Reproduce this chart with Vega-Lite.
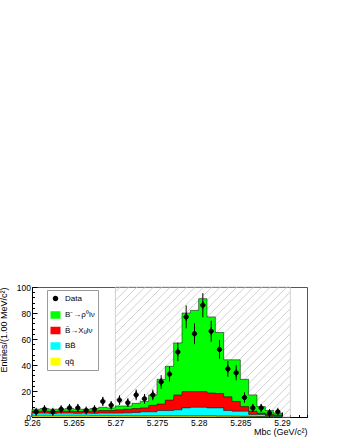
{
 "$schema": "https://vega.github.io/schema/vega-lite/v6.json",
 "width": 275, "height": 130,
 "autosize": "none",
 "padding": {"left": 32, "top": 287, "right": 34, "bottom": 24},
 "background": "white",
 "config": {
  "font": "Liberation Sans",
  "view": {"stroke": "#555", "strokeWidth": 1},
  "axis": {"labelFontSize": 8.5, "labelColor": "black", "titleFontSize": 9, "titleFontWeight": "normal", "titleColor": "black", "tickColor": "black", "domainColor": "black", "grid": false, "tickSize": -5, "labelOverlap": false},
  "legend": {"orient": "none", "legendX": 15, "legendY": 3, "title": null, "fillColor": "white", "strokeColor": "#999", "padding": 3, "symbolSize": 100, "symbolStrokeColor": "black", "symbolStrokeWidth": 0.7, "symbolOpacity": 1, "labelFontSize": 8, "labelColor": "black", "rowPadding": 4.5, "labelOffset": 4}
 },
 "resolve": {"axis": {"x": "independent", "y": "independent"}},
 "datasets": {
  "hatch": [
   {"hx1":5.27,"hy1":96.2,"hx2":5.2706,"hy2":100},
   {"hx1":5.27,"hy1":89.7,"hx2":5.2716,"hy2":100},
   {"hx1":5.27,"hy1":83.3,"hx2":5.2726,"hy2":100},
   {"hx1":5.27,"hy1":76.9,"hx2":5.2736,"hy2":100},
   {"hx1":5.27,"hy1":70.5,"hx2":5.2746,"hy2":100},
   {"hx1":5.27,"hy1":64.1,"hx2":5.2756,"hy2":100},
   {"hx1":5.27,"hy1":57.7,"hx2":5.2766,"hy2":100},
   {"hx1":5.27,"hy1":51.3,"hx2":5.2776,"hy2":100},
   {"hx1":5.27,"hy1":44.9,"hx2":5.2786,"hy2":100},
   {"hx1":5.27,"hy1":38.5,"hx2":5.2796,"hy2":100},
   {"hx1":5.27,"hy1":32.1,"hx2":5.2806,"hy2":100},
   {"hx1":5.27,"hy1":25.6,"hx2":5.2816,"hy2":100},
   {"hx1":5.27,"hy1":19.2,"hx2":5.2826,"hy2":100},
   {"hx1":5.27,"hy1":12.8,"hx2":5.2836,"hy2":100},
   {"hx1":5.27,"hy1":6.4,"hx2":5.2846,"hy2":100},
   {"hx1":5.270,"hy1":0,"hx2":5.2856,"hy2":100},
   {"hx1":5.271,"hy1":0,"hx2":5.2866,"hy2":100},
   {"hx1":5.272,"hy1":0,"hx2":5.2876,"hy2":100},
   {"hx1":5.273,"hy1":0,"hx2":5.2886,"hy2":100},
   {"hx1":5.274,"hy1":0,"hx2":5.2896,"hy2":100},
   {"hx1":5.275,"hy1":0,"hx2":5.2906,"hy2":100},
   {"hx1":5.276,"hy1":0,"hx2":5.291,"hy2":96.2},
   {"hx1":5.277,"hy1":0,"hx2":5.291,"hy2":89.7},
   {"hx1":5.278,"hy1":0,"hx2":5.291,"hy2":83.3},
   {"hx1":5.279,"hy1":0,"hx2":5.291,"hy2":76.9},
   {"hx1":5.280,"hy1":0,"hx2":5.291,"hy2":70.5},
   {"hx1":5.281,"hy1":0,"hx2":5.291,"hy2":64.1},
   {"hx1":5.282,"hy1":0,"hx2":5.291,"hy2":57.7},
   {"hx1":5.283,"hy1":0,"hx2":5.291,"hy2":51.3},
   {"hx1":5.284,"hy1":0,"hx2":5.291,"hy2":44.9},
   {"hx1":5.285,"hy1":0,"hx2":5.291,"hy2":38.5},
   {"hx1":5.286,"hy1":0,"hx2":5.291,"hy2":32.1},
   {"hx1":5.287,"hy1":0,"hx2":5.291,"hy2":25.6},
   {"hx1":5.288,"hy1":0,"hx2":5.291,"hy2":19.2},
   {"hx1":5.289,"hy1":0,"hx2":5.291,"hy2":12.8},
   {"hx1":5.290,"hy1":0,"hx2":5.291,"hy2":6.4}
  ],
  "region": [{"a": 5.27, "b": 5.291, "lo": 0, "hi": 100}],
  "hist": [
   {"x0":5.260,"qq":1.3,"bb":3.0,"xu":4.5,"sig":6.0},
   {"x0":5.261,"qq":1.3,"bb":3.0,"xu":4.5,"sig":6.5},
   {"x0":5.262,"qq":1.3,"bb":2.8,"xu":4.2,"sig":6.0},
   {"x0":5.263,"qq":1.3,"bb":3.0,"xu":4.5,"sig":6.0},
   {"x0":5.264,"qq":1.3,"bb":3.0,"xu":4.5,"sig":6.5},
   {"x0":5.265,"qq":1.3,"bb":2.8,"xu":4.2,"sig":6.0},
   {"x0":5.266,"qq":1.3,"bb":3.0,"xu":4.5,"sig":6.0},
   {"x0":5.267,"qq":1.2,"bb":2.8,"xu":4.5,"sig":6.5},
   {"x0":5.268,"qq":1.2,"bb":3.0,"xu":5.0,"sig":7.5},
   {"x0":5.269,"qq":1.2,"bb":3.0,"xu":5.0,"sig":7.0},
   {"x0":5.270,"qq":1.1,"bb":3.0,"xu":5.5,"sig":8.5},
   {"x0":5.271,"qq":1.1,"bb":3.2,"xu":6.0,"sig":8.5},
   {"x0":5.272,"qq":1.0,"bb":3.5,"xu":6.5,"sig":10.5},
   {"x0":5.273,"qq":1.0,"bb":4.0,"xu":7.0,"sig":12.0},
   {"x0":5.274,"qq":1.0,"bb":4.0,"xu":9.0,"sig":17.0},
   {"x0":5.275,"qq":1.0,"bb":5.0,"xu":10.0,"sig":29.0},
   {"x0":5.276,"qq":1.0,"bb":5.0,"xu":13.0,"sig":39.0},
   {"x0":5.277,"qq":1.0,"bb":5.5,"xu":17.0,"sig":57.0},
   {"x0":5.278,"qq":1.0,"bb":7.0,"xu":19.5,"sig":80.0},
   {"x0":5.279,"qq":1.0,"bb":7.5,"xu":19.5,"sig":82.0},
   {"x0":5.280,"qq":1.0,"bb":7.5,"xu":19.5,"sig":91.0},
   {"x0":5.281,"qq":1.0,"bb":7.0,"xu":18.5,"sig":77.0},
   {"x0":5.282,"qq":0.8,"bb":7.0,"xu":18.0,"sig":65.0},
   {"x0":5.283,"qq":0.8,"bb":5.0,"xu":15.5,"sig":44.0},
   {"x0":5.284,"qq":0.7,"bb":4.5,"xu":12.0,"sig":44.0},
   {"x0":5.285,"qq":0.6,"bb":4.5,"xu":8.0,"sig":29.0},
   {"x0":5.286,"qq":0.5,"bb":2.0,"xu":4.5,"sig":17.0},
   {"x0":5.287,"qq":0.4,"bb":2.0,"xu":3.0,"sig":8.0},
   {"x0":5.288,"qq":0.3,"bb":1.0,"xu":2.0,"sig":5.0},
   {"x0":5.289,"qq":0.2,"bb":1.0,"xu":1.5,"sig":3.0},
   {"x0":5.290,"qq":0,"bb":0,"xu":0,"sig":0}
  ],
  "obs": [
   {"xc":5.2605,"n":4,"lo":2,"hi":6},
   {"xc":5.2615,"n":6,"lo":3.6,"hi":8.4},
   {"xc":5.2625,"n":4,"lo":2,"hi":6},
   {"xc":5.2635,"n":6,"lo":3.6,"hi":8.4},
   {"xc":5.2645,"n":7,"lo":4.4,"hi":9.6},
   {"xc":5.2655,"n":7,"lo":4.4,"hi":9.6},
   {"xc":5.2665,"n":5,"lo":2.8,"hi":7.2},
   {"xc":5.2675,"n":6,"lo":3.6,"hi":8.4},
   {"xc":5.2685,"n":12,"lo":8.5,"hi":15.5},
   {"xc":5.2695,"n":9,"lo":6,"hi":12},
   {"xc":5.2705,"n":13,"lo":9.4,"hi":16.6},
   {"xc":5.2715,"n":11,"lo":7.7,"hi":14.3},
   {"xc":5.2725,"n":17,"lo":12.9,"hi":21.1},
   {"xc":5.2735,"n":14,"lo":10.3,"hi":17.7},
   {"xc":5.2745,"n":17,"lo":12.9,"hi":21.1},
   {"xc":5.2755,"n":27,"lo":21.8,"hi":32.2},
   {"xc":5.2765,"n":33,"lo":27.3,"hi":38.7},
   {"xc":5.2775,"n":50,"lo":42.9,"hi":57.1},
   {"xc":5.2785,"n":77,"lo":68.2,"hi":85.8},
   {"xc":5.2795,"n":64,"lo":56,"hi":72},
   {"xc":5.2805,"n":86,"lo":76.7,"hi":95.3},
   {"xc":5.2815,"n":66,"lo":57.9,"hi":74.1},
   {"xc":5.2825,"n":52,"lo":44.8,"hi":59.2},
   {"xc":5.2835,"n":37,"lo":30.9,"hi":43.1},
   {"xc":5.2845,"n":34,"lo":28.2,"hi":39.8},
   {"xc":5.2855,"n":15,"lo":11.1,"hi":18.9},
   {"xc":5.2865,"n":7,"lo":4.4,"hi":9.6},
   {"xc":5.2875,"n":7,"lo":4.4,"hi":9.6},
   {"xc":5.2885,"n":3,"lo":1.3,"hi":4.7},
   {"xc":5.2895,"n":4,"lo":2,"hi":6}
  ]
 },
 "layer": [
  {
   "data": {"name": "hatch"},
   "mark": {"type": "rule", "color": "#c4c4c4", "strokeWidth": 0.8},
   "encoding": {
    "x": {"field": "hx1", "type": "quantitative",
      "scale": {"domain": [5.26, 5.293], "nice": false, "zero": false},
      "axis": {"orient": "bottom", "values": [5.26, 5.265, 5.27, 5.275, 5.28, 5.285, 5.29], "format": ".4~r", "title": "Mbc (GeV/c²)", "titleAnchor": "end", "titleY": 10, "titleBaseline": "top", "labelFlush": false, "labelPadding": 6, "labelOverlap": false}},
    "y": {"field": "hy1", "type": "quantitative",
      "scale": {"domain": [0, 100], "nice": false},
      "axis": {"orient": "left", "values": [0, 20, 40, 60, 80, 100], "title": "Entries/(1.00 MeV/c²)", "titleAnchor": "end", "titleX": -24, "labelPadding": 6.5, "labelOverlap": false}},
    "x2": {"field": "hx2"},
    "y2": {"field": "hy2"}
   }
  },
  {
   "data": {"name": "region"},
   "mark": {"type": "rect", "fill": null, "fillOpacity": 0, "stroke": "#c4c4c4", "strokeWidth": 0.8},
   "encoding": {
    "x": {"field": "a", "type": "quantitative",
      "axis": {"orient": "bottom", "values": [5.261, 5.262, 5.263, 5.264, 5.266, 5.267, 5.268, 5.269, 5.271, 5.272, 5.273, 5.274, 5.276, 5.277, 5.278, 5.279, 5.281, 5.282, 5.283, 5.284, 5.286, 5.287, 5.288, 5.289, 5.291, 5.292, 5.293], "labels": false, "title": null, "domain": false, "tickSize": -2.5}},
    "x2": {"field": "b"},
    "y": {"field": "lo", "type": "quantitative",
      "axis": {"orient": "left", "values": [4, 8, 12, 16, 24, 28, 32, 36, 44, 48, 52, 56, 64, 68, 72, 76, 84, 88, 92, 96], "labels": false, "title": null, "domain": false, "tickSize": -2.5}},
    "y2": {"field": "hi"}
   }
  },
  {
   "data": {"name": "hist"},
   "mark": {"type": "area", "interpolate": "step-after", "stroke": "black", "strokeWidth": 0.5},
   "encoding": {
    "x": {"field": "x0", "type": "quantitative", "axis": null},
    "y": {"field": "sig", "type": "quantitative", "axis": null, "stack": null},
    "color": {"datum": "B⁻→ρ⁰lν", "type": "nominal",
      "scale": {"domain": ["Data", "B⁻→ρ⁰lν", "B̄→Xᵤlν", "BB̄", "qq̄"], "range": ["#000000", "#00ff00", "#ff0000", "#00ffff", "#ffff00"]}}
   }
  },
  {
   "data": {"name": "hist"},
   "mark": {"type": "area", "interpolate": "step-after", "stroke": "black", "strokeWidth": 0.5},
   "encoding": {
    "x": {"field": "x0", "type": "quantitative", "axis": null},
    "y": {"field": "xu", "type": "quantitative", "axis": null, "stack": null},
    "color": {"datum": "B̄→Xᵤlν", "type": "nominal"}
   }
  },
  {
   "data": {"name": "hist"},
   "mark": {"type": "area", "interpolate": "step-after", "stroke": "black", "strokeWidth": 0.5},
   "encoding": {
    "x": {"field": "x0", "type": "quantitative", "axis": null},
    "y": {"field": "bb", "type": "quantitative", "axis": null, "stack": null},
    "color": {"datum": "BB̄", "type": "nominal"}
   }
  },
  {
   "data": {"name": "hist"},
   "mark": {"type": "area", "interpolate": "step-after", "stroke": "black", "strokeWidth": 0.5},
   "encoding": {
    "x": {"field": "x0", "type": "quantitative", "axis": null},
    "y": {"field": "qq", "type": "quantitative", "axis": null, "stack": null},
    "color": {"datum": "qq̄", "type": "nominal"}
   }
  },
  {
   "data": {"name": "obs"},
   "mark": {"type": "rule", "color": "black", "strokeWidth": 1},
   "encoding": {
    "x": {"field": "xc", "type": "quantitative", "axis": null},
    "y": {"field": "lo", "type": "quantitative", "axis": null},
    "y2": {"field": "hi"}
   }
  },
  {
   "data": {"name": "obs"},
   "mark": {"type": "point", "filled": true, "size": 64, "opacity": 1, "stroke": "black", "strokeWidth": 1},
   "encoding": {
    "x": {"field": "xc", "type": "quantitative", "axis": null},
    "y": {"field": "n", "type": "quantitative", "axis": null},
    "color": {"datum": "Data", "type": "nominal"},
    "shape": {"datum": "Data", "type": "nominal",
      "scale": {"domain": ["Data", "B⁻→ρ⁰lν", "B̄→Xᵤlν", "BB̄", "qq̄"], "range": ["M0,-1V1M-0.55,0A0.55,0.55,0,1,1,0.55,0A0.55,0.55,0,1,1,-0.55,0Z", "M-1,-0.75H1V0.75H-1Z", "M-1,-0.75H1V0.75H-1Z", "M-1,-0.75H1V0.75H-1Z", "M-1,-0.75H1V0.75H-1Z"]}}
   }
  }
 ]
}
